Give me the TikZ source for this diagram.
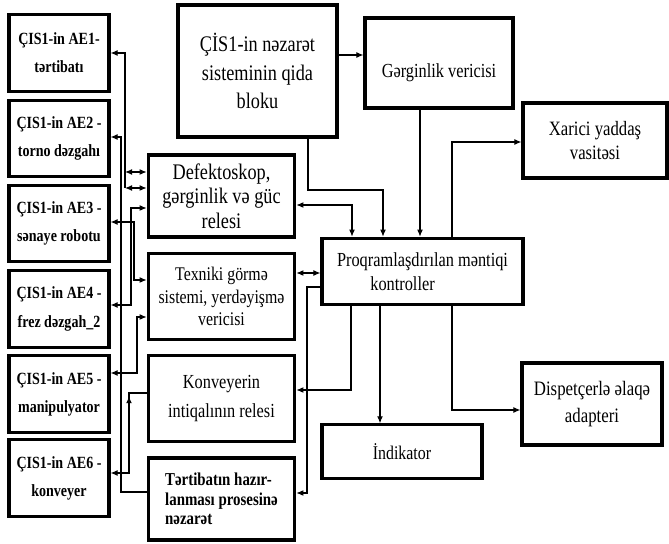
\documentclass[tikz,border=0pt]{standalone}
\usepackage{fontspec}
\setmainfont{Liberation Serif}[FakeStretch=0.82]
\usetikzlibrary{positioning,arrows.meta,decorations.markings}

\begin{document}
\begin{tikzpicture}[
        x=0.03cm, y=-0.03cm,
        >={Latex[length=6pt,width=5pt]},
        box/.style={draw, line width=2.6pt, align=center, inner sep=2pt},
        aebox/.style={box, minimum width=3.0cm, minimum height=2.3cm,
            font=\bfseries\fontsize{14.6}{24}\selectfont},
        midbox/.style={box, minimum width=4.4cm, font=\fontsize{19}{21}\selectfont},
        wire/.style={line width=0.9pt},
        upmark/.style={postaction={decorate, decoration={markings,
            mark=at position 0.24 with {\arrow{<}}}}}
    ]
    \useasboundingbox (0,0) rectangle (669,544);

    % executive units of the line
    \foreach \n/\y/\txt in {1/53/{ÇIS1-in AE1-\\tərtibatı},
                            2/138.5/{ÇIS1-in AE2 -\\torno dəzgahı},
                            3/223.5/{ÇIS1-in AE3 -\\sənaye robotu},
                            4/309/{ÇIS1-in AE4 -\\frez dəzgah\_2},
                            5/394/{ÇIS1-in AE5 -\\manipulyator},
                            6/478/{ÇIS1-in AE6 -\\konveyer}}
        \node[aebox] (ae\n) at (59,\y) {\txt};

    % relays and sensors
    \node[midbox, minimum height=2.46cm] (def) at (221.5,196)
        {Defektoskop,\\gərginlik və güc\\relesi};
    \node[midbox, minimum height=2.6cm, font=\fontsize{16.5}{19}\selectfont] (tex) at (221.5,296.5)
        {Texniki görmə\\sistemi, yerdəyişmə\\vericisi};
    \node[midbox, minimum height=2.6cm, font=\fontsize{17}{24}\selectfont] (konv) at (221.5,398.5)
        {Konveyerin\\intiqalının relesi};
    \node[midbox, minimum height=2.46cm, align=left, font=\bfseries\fontsize{15.5}{16.5}\selectfont] (tert) at (221.5,499)
        {Tərtibatın hazır-\\lanması prosesinə\\nəzarət};

    % power, controller and periphery
    \node[box, minimum width=4.77cm, minimum height=3.96cm, font=\fontsize{19}{24}\selectfont] (power) at (257.5,71)
        {ÇİS1-in nəzarət\\sisteminin qida\\bloku};
    \node[box, minimum width=4.44cm, minimum height=2.7cm, font=\fontsize{17}{17}\selectfont] (gerg) at (439,63)
        {\raisebox{-12pt}[0pt][0pt]{Gərginlik vericisi}};
    \node[box, minimum width=6.03cm, minimum height=2.0cm, align=left, font=\fontsize{17}{20}\selectfont] (plc) at (422.5,271.5)
        {Proqramlaşdırılan məntiqi\\\hspace*{1cm}kontroller};
    \node[box, minimum width=4.32cm, minimum height=2.25cm, font=\fontsize{17.4}{20}\selectfont] (xarici) at (595,140.5)
        {Xarici yaddaş\\vasitəsi};
    \node[box, minimum width=4.8cm, minimum height=1.6cm, font=\fontsize{16.5}{16}\selectfont] (ind) at (402,451.5)
        {İndikator};
    \node[box, minimum width=4.2cm, minimum height=2.46cm, font=\fontsize{17.5}{23}\selectfont] (disp) at (592,404)
        {Dispetçerlə əlaqə\\adapteri};

    % links of the controller
    \draw[wire,->] (power.east |- 0,55) -- (gerg.west |- 0,55);
    \draw[wire,->] (power.south -| 308,0) |- (383,190) -- (plc.north -| 383,0);
    \draw[wire,->] (gerg.south -| 420,0) -- (plc.north -| 420,0);
    \draw[wire,<->] (def.east |- 0,205) -| (plc.north -| 352,0);
    \draw[wire,->] (plc.north -| 452,0) |- (xarici.west |- 0,142);
    \draw[wire,<->] (tex.east |- 0,273) -- (plc.west |- 0,273);
    \draw[wire,->] (plc.west |- 0,287) -| (307,493) -- (tert.east |- 0,493);
    \draw[wire,->] (plc.south -| 351,0) |- (konv.east |- 0,390);
    \draw[wire,->] (plc.south -| 380,0) -- (ind.north -| 380,0);
    \draw[wire,->] (plc.south -| 452,0) |- (disp.west |- 0,410);

    % bus to the executive units
    \coordinate (j1) at (125,172);
    \coordinate (j2) at (125,188);
    \draw[wire,->] (tert.west |- 0,492) -| (121,137) -- (ae2.east |- 0,137);
    \draw[wire,->] (j2) |- (ae1.east);
    \draw[wire,<->] (j1) -- (def.west |- j1);
    \draw[wire,<->] (j2) -- (def.west |- j2);
    \draw[wire,<->] (ae4.east |- 0,305) -| (131,208) -- (def.west |- 0,208);
    \draw[wire,<->] (ae3.east |- 0,222) -| (134,280) -- (tex.west |- 0,280);
    \draw[wire,<->] (ae5.east |- 0,373) -| (137,317) -- (tex.west |- 0,317);
    \draw[wire,->,upmark] (konv.west |- 0,393) -| (129,473) -- (ae6.east |- 0,473);
\end{tikzpicture}
\end{document}
